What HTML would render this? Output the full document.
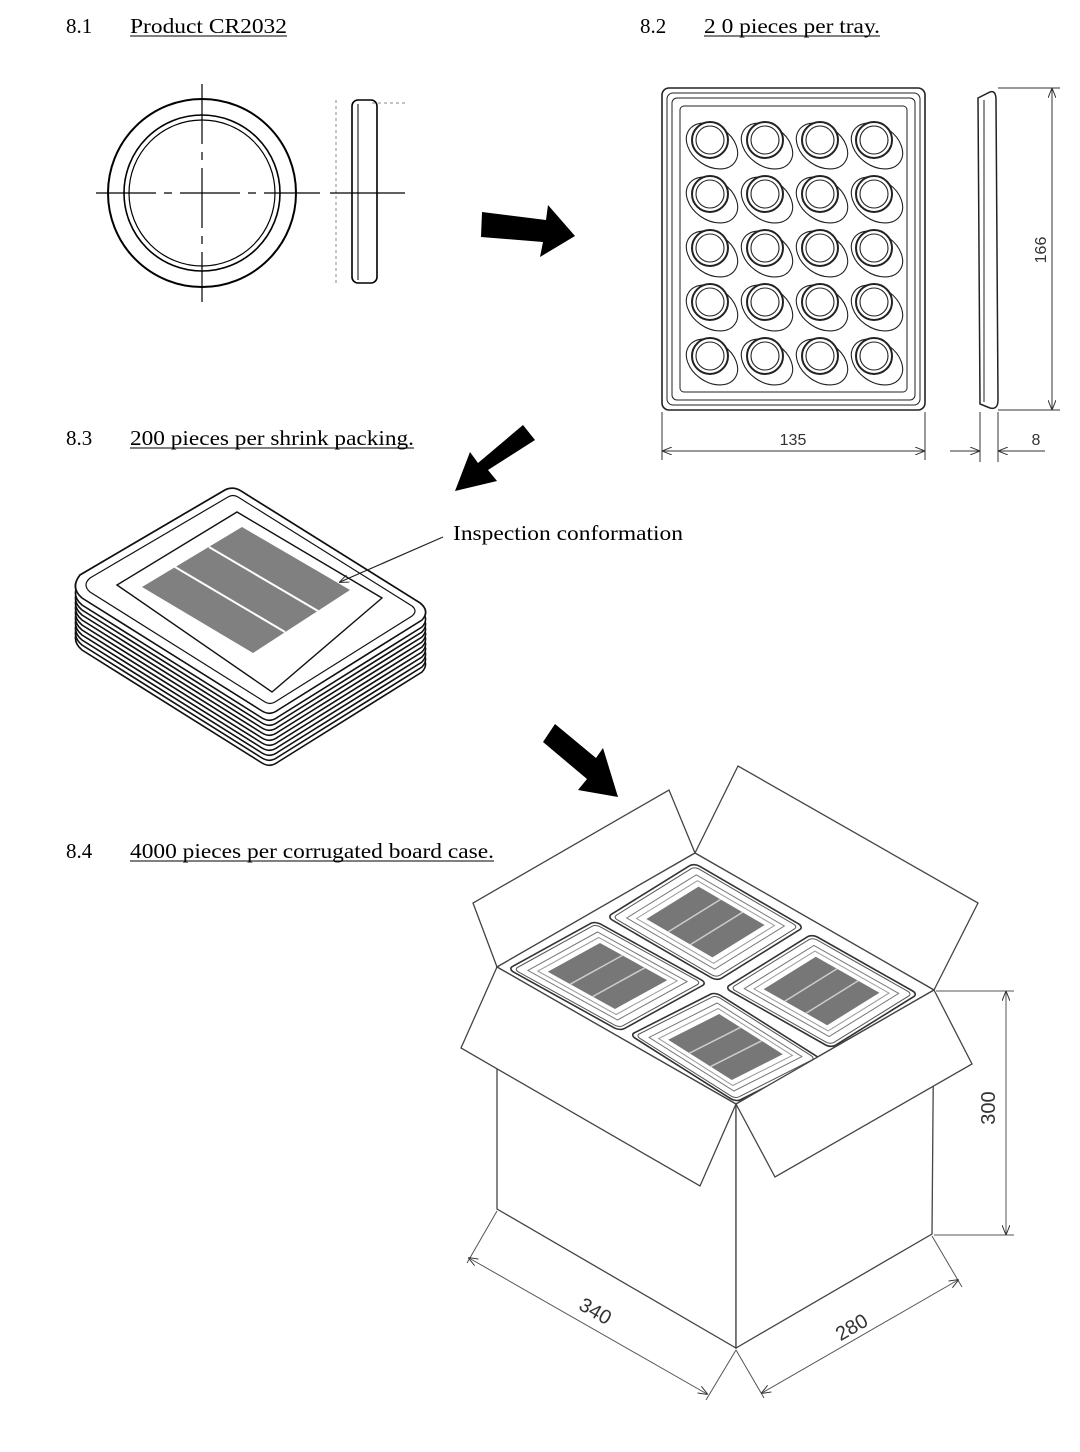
<!DOCTYPE html>
<html><head><meta charset="utf-8"><style>
html,body{margin:0;padding:0;background:#fff}
svg{display:block}
.t{font-family:"Liberation Serif",serif;font-size:21px;fill:#000}
.d{font-family:"Liberation Sans",sans-serif;font-size:16px;fill:#333}
</style></head><body>
<svg width="1080" height="1452" viewBox="0 0 1080 1452" xmlns="http://www.w3.org/2000/svg">
<defs>
<marker id="ah" markerWidth="10" markerHeight="8" refX="9" refY="4" orient="auto" markerUnits="userSpaceOnUse"><path d="M0,0 L10,4 L0,8" fill="none" stroke="#333" stroke-width="1"/></marker>
<marker id="ahs" markerWidth="10" markerHeight="8" refX="1" refY="4" orient="auto" markerUnits="userSpaceOnUse"><path d="M10,0 L0,4 L10,8" fill="none" stroke="#333" stroke-width="1"/></marker>
<g id="tray">
<rect x="0" y="0" width="1" height="1" rx="0.05" fill="#fff" stroke="#333" stroke-width="1.6" vector-effect="non-scaling-stroke"/>
<rect x="0.03" y="0.03" width="0.94" height="0.94" rx="0.04" fill="none" stroke="#555" stroke-width="1" vector-effect="non-scaling-stroke"/>
<rect x="0.1" y="0.1" width="0.8" height="0.8" fill="none" stroke="#777" stroke-width="1" vector-effect="non-scaling-stroke"/>
<rect x="0.15" y="0.15" width="0.7" height="0.7" fill="none" stroke="#999" stroke-width="1" vector-effect="non-scaling-stroke"/>
<rect x="0.2" y="0.2" width="0.6" height="0.6" fill="#777"/>
<line x1="0.2" y1="0.4" x2="0.8" y2="0.4" stroke="#ccc" stroke-width="1.5" vector-effect="non-scaling-stroke"/>
<line x1="0.2" y1="0.6" x2="0.8" y2="0.6" stroke="#ccc" stroke-width="1.5" vector-effect="non-scaling-stroke"/>
</g>
</defs>

<!-- headings -->
<text class="t" x="66" y="33">8.1</text>
<text class="t" x="130" y="33" textLength="157" lengthAdjust="spacingAndGlyphs">Product CR2032</text>
<line x1="130" y1="36" x2="287" y2="36" stroke="#000" stroke-width="1"/>
<text class="t" x="640" y="33">8.2</text>
<text class="t" x="704" y="33" textLength="176" lengthAdjust="spacingAndGlyphs">2 0 pieces per tray.</text>
<line x1="704" y1="36" x2="880" y2="36" stroke="#000" stroke-width="1"/>
<text class="t" x="66" y="445">8.3</text>
<text class="t" x="130" y="445" textLength="284" lengthAdjust="spacingAndGlyphs">200 pieces per shrink packing.</text>
<line x1="130" y1="448" x2="414" y2="448" stroke="#000" stroke-width="1"/>
<text class="t" x="66" y="858">8.4</text>
<text class="t" x="130" y="858" textLength="364" lengthAdjust="spacingAndGlyphs">4000 pieces per corrugated board case.</text>
<line x1="130" y1="861" x2="494" y2="861" stroke="#000" stroke-width="1"/>
<text class="t" x="453" y="540" textLength="230" lengthAdjust="spacingAndGlyphs">Inspection conformation</text>

<!-- coin -->
<g fill="none" stroke="#000">
<circle cx="202" cy="193" r="94" stroke-width="2"/>
<circle cx="202" cy="193" r="78" stroke-width="1.6"/>
<circle cx="202" cy="193" r="73" stroke-width="1.2"/>
<line x1="96" y1="193" x2="320" y2="193" stroke-width="1.2" stroke-dasharray="60,8,8,8"/>
<line x1="202" y1="84" x2="202" y2="302" stroke-width="1.2" stroke-dasharray="60,8,8,8"/>
<rect x="352" y="100" width="25" height="183" rx="6" stroke-width="1.6"/>
<line x1="358" y1="104" x2="358" y2="280" stroke-width="1"/>
<line x1="336" y1="100" x2="336" y2="283" stroke="#888" stroke-dasharray="3,3"/>
<line x1="372" y1="103" x2="405" y2="103" stroke="#888" stroke-dasharray="3,3"/>
<line x1="330" y1="193" x2="405" y2="193" stroke-width="1.2"/>
</g>

<!-- arrows -->
<polygon points="482,212 546,220 548,205 575,236 540,257 543,242 481,237" fill="#000"/>
<polygon points="535,440 488,470 497,481 455,491 470,452 478,463 523,425" fill="#000"/>
<polygon points="555,724 596,758 603,748 618,797 578,790 587,779 543,742" fill="#000"/>

<!-- tray -->
<g fill="none" stroke="#222">
<rect x="662" y="88" width="263" height="322" rx="7" stroke-width="1.6"/>
<rect x="667" y="93" width="253" height="312" rx="6" stroke-width="1"/>
<rect x="672" y="98" width="243" height="302" rx="5" stroke-width="1"/>
<rect x="680" y="106" width="227" height="286" rx="4" stroke-width="1"/>
</g>
<g fill="none" stroke="#222" stroke-width="1.1">
<g id="row">
<ellipse cx="712" cy="146" rx="28" ry="20" transform="rotate(35 712 146)"/>
<ellipse cx="767" cy="146" rx="28" ry="20" transform="rotate(35 767 146)"/>
<ellipse cx="822" cy="146" rx="28" ry="20" transform="rotate(35 822 146)"/>
<ellipse cx="877" cy="146" rx="28" ry="20" transform="rotate(35 877 146)"/>
<circle cx="710" cy="140" r="18" stroke-width="2" fill="#fff"/>
<circle cx="765" cy="140" r="18" stroke-width="2" fill="#fff"/>
<circle cx="820" cy="140" r="18" stroke-width="2" fill="#fff"/>
<circle cx="874" cy="140" r="18" stroke-width="2" fill="#fff"/>
<circle cx="710" cy="140" r="14"/>
<circle cx="765" cy="140" r="14"/>
<circle cx="820" cy="140" r="14"/>
<circle cx="874" cy="140" r="14"/>
</g>
<use href="#row" y="54"/><use href="#row" y="108"/><use href="#row" y="162"/><use href="#row" y="216"/>
</g>
<path d="M978,98 L990,92 Q996,90 996,100 L998,400 Q998,410 990,408 L980,404 Z" fill="none" stroke="#222" stroke-width="1.5"/>
<line x1="984" y1="100" x2="984" y2="402" stroke="#222"/>
<!-- dims tray -->
<g stroke="#333" stroke-width="1" fill="none">
<line x1="998" y1="88" x2="1060" y2="88"/><line x1="998" y1="410" x2="1060" y2="410"/>
<line x1="1052" y1="89" x2="1052" y2="409" marker-start="url(#ahs)" marker-end="url(#ah)"/>
<line x1="662" y1="412" x2="662" y2="460"/><line x1="925" y1="412" x2="925" y2="460"/>
<line x1="663" y1="451" x2="924" y2="451" marker-start="url(#ahs)" marker-end="url(#ah)"/>
<line x1="980" y1="412" x2="980" y2="462"/><line x1="998" y1="412" x2="998" y2="462"/>
<line x1="950" y1="451" x2="979" y2="451" marker-end="url(#ah)"/>
<line x1="1045" y1="451" x2="999" y2="451" marker-end="url(#ah)"/>
</g>
<text class="d" x="793" y="445" text-anchor="middle">135</text>
<text class="d" x="1036" y="445" text-anchor="middle">8</text>
<text class="d" transform="translate(1046,250) rotate(-90)" text-anchor="middle">166</text>

<!-- stack -->
<g fill="#fff" stroke="#111" stroke-width="1.8">
<g id="layer"><path d="M80,575 L225,490 Q233,486 241,491 L420,603 Q430,611 422,620 L278,710 Q270,716 262,711 L82,598 Q70,588 80,575 Z"/></g>
</g>
<g fill="#fff" stroke="#111" stroke-width="1.6">
<use href="#layer" y="52"/><use href="#layer" y="47"/><use href="#layer" y="42"/><use href="#layer" y="37"/><use href="#layer" y="32"/><use href="#layer" y="27"/><use href="#layer" y="22"/><use href="#layer" y="17"/><use href="#layer" y="12"/><use href="#layer" y="7"/><use href="#layer" y="0"/>
</g>
<path d="M90,578 L228,497 Q233,494 238,497 L412,606 Q418,611 412,616 L275,702 Q270,705 265,702 L90,592 Q82,585 90,578 Z" fill="#fff" stroke="#111" stroke-width="1.2"/>
<polygon points="117,585 237,512 382,598 272,692" fill="none" stroke="#111" stroke-width="1.4"/>
<polygon points="142,587 242,527 350,590 253,653" fill="#808080"/>
<line x1="175" y1="567" x2="285" y2="632" stroke="#fff" stroke-width="2"/>
<line x1="209" y1="547" x2="318" y2="611" stroke="#fff" stroke-width="2"/>
<line x1="443" y1="537" x2="340" y2="582" stroke="#222" stroke-width="1.2" marker-end="url(#ah)"/>

<!-- box -->
<g fill="#fff" stroke="#444" stroke-width="1.3">
<polygon points="497,967 473,903 669,790 695,853"/>
<polygon points="695,853 738,766 978,903 934,990"/>
<polygon points="497,967 695,853 934,990 736,1104"/>
<polygon points="497,967 497,1209 736,1348 736,1104"/>
<polygon points="736,1104 736,1348 932,1234 934,990"/>
</g>
<use href="#tray" transform="matrix(87,-48,112,62,508,969)"/>
<use href="#tray" transform="matrix(87,-54,110,64,607,917)"/>
<use href="#tray" transform="matrix(87,-54,106,60,725,988)"/>
<use href="#tray" transform="matrix(85,-43,106,67,630,1035)"/>
<g fill="#fff" stroke="#444" stroke-width="1.3">
<polygon points="497,967 461,1048 700,1186 736,1104"/>
<polygon points="736,1104 775,1177 972,1064 934,990"/>
</g>
<g stroke="#555" stroke-width="1" fill="none">
<line x1="936" y1="991" x2="1014" y2="991"/><line x1="934" y1="1235" x2="1014" y2="1235"/>
<line x1="1006" y1="992" x2="1006" y2="1234" marker-start="url(#ahs)" marker-end="url(#ah)"/>
<line x1="497" y1="1211" x2="467" y2="1263"/><line x1="736" y1="1350" x2="706" y2="1400"/>
<line x1="469" y1="1258" x2="707" y2="1394" marker-start="url(#ahs)" marker-end="url(#ah)"/>
<line x1="932" y1="1236" x2="962" y2="1287"/><line x1="736" y1="1350" x2="764" y2="1398"/>
<line x1="762" y1="1393" x2="958" y2="1280" marker-start="url(#ahs)" marker-end="url(#ah)"/>
</g>
<text class="d" style="font-size:20px" transform="translate(995,1108) rotate(-90)" text-anchor="middle">300</text>
<text class="d" style="font-size:20px" transform="translate(592,1317) rotate(30)" text-anchor="middle">340</text>
<text class="d" style="font-size:20px" transform="translate(855,1333) rotate(-30)" text-anchor="middle">280</text>
</svg>
</body></html>
